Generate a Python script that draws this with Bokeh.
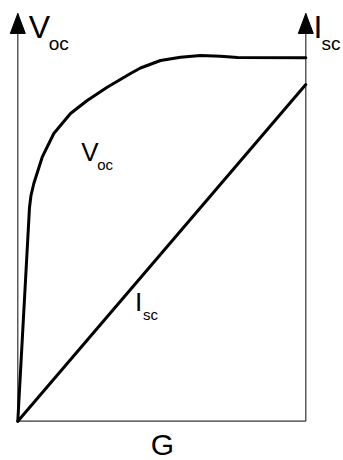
from bokeh.plotting import figure
from bokeh.models import Range1d
from bokeh.core.properties import value
from bokeh.embed import file_html
from bokeh.resources import INLINE

# ---- data (arbitrary units) ----
# irradiance G
voc_g = [0.0, 4.06, 4.58, 5.56, 8.47, 12.5, 18.3, 24.1, 31.04, 39.13, 42.6,
         49.55, 56.49, 63.44, 70.38, 76.3, 100.0]
# open-circuit voltage
voc = [0.0, 58.81, 62.11, 65.41, 72.65, 79.17, 84.67, 88.25, 91.91, 95.68,
       97.19, 99.26, 100.17, 100.63, 100.44, 100.08, 100.0]
# short-circuit current
isc_g = [0.0, 100.0]
isc = [0.0, 92.65]

g_max = 100.0
axis_top = 112.2

FONT = value("Liberation Sans")

p = figure(width=343, height=460,
           x_range=Range1d(-6.007, 113.09), y_range=Range1d(-10.81, 115.77),
           x_axis_location=None, y_axis_location=None,
           output_backend="svg", toolbar_location=None, min_border=0)
p.grid.visible = False
p.outline_line_color = None
p.background_fill_color = "white"

# axes frame lines
axis_col = "#333333"
p.segment(x0=[0, g_max, 0], y0=[0, 0, 0], x1=[0, g_max, g_max], y1=[axis_top, axis_top, 0],
          line_color=axis_col, line_width=1.2)

# arrow heads (triangles) on the two vertical axes
hw = 2.6
head = 5.5
p.patches(xs=[[0 - hw, 0, 0 + hw], [g_max - hw, g_max, g_max + hw]],
          ys=[[axis_top - head, axis_top, axis_top - head]] * 2,
          fill_color="black", line_color="black", line_width=1)

# curves
p.line(voc_g, voc, line_color="black", line_width=3, line_join="round", line_cap="round")
p.line(isc_g, isc, line_color="black", line_width=3, line_join="round", line_cap="round")

def txt(x, y, s, size):
    p.text(x=[x], y=[y], text=[s], text_font=FONT, text_font_size=size,
           text_align="left", text_baseline="alphabetic", text_color="black")

# axis captions
txt(3.82, 108.5, "V", "32px")
txt(10.76, 103.9, "oc", "19px")
txt(102.67, 108.5, "I", "32px")
txt(105.45, 103.9, "sc", "19px")
txt(46.15, -6.3, "G", "30px")

# curve captions
txt(22.01, 74.13, "V", "26px")
txt(27.57, 70.72, "oc", "15px")
txt(40.73, 32.85, "I", "26px")
txt(43.47, 29.36, "sc", "15px")

open("out.html", "w").write(file_html(p, INLINE))
